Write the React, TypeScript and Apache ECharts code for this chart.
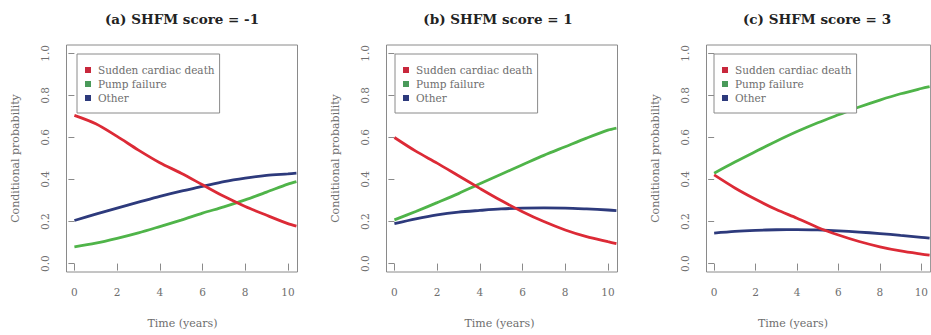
import React, { useEffect, useRef } from "react";
import * as echarts from "echarts";

// ---- data ----
const TIMES = [0, 1, 2, 3, 4, 5, 6, 7, 8, 9, 10, 10.4];
const SERIES_NAMES = ["Sudden cardiac death", "Pump failure", "Other"];
const PANEL_TITLES = ["(a) SHFM score = -1", "(b) SHFM score = 1", "(c) SHFM score = 3"];
const Y_TICKS = [0, 0.2, 0.4, 0.6, 0.8, 1.0];
const X_TICKS = [0, 2, 4, 6, 8, 10];

const SCD_A = [0.705, 0.665, 0.605, 0.54, 0.48, 0.43, 0.375, 0.32, 0.272, 0.23, 0.19, 0.178];
const PUMP_A = [0.08, 0.097, 0.12, 0.146, 0.176, 0.207, 0.24, 0.27, 0.303, 0.34, 0.378, 0.39];
const OTHER_A = [0.205, 0.235, 0.264, 0.292, 0.32, 0.345, 0.367, 0.39, 0.407, 0.42, 0.427, 0.43];

const SCD_B = [0.6, 0.535, 0.478, 0.418, 0.358, 0.3, 0.247, 0.2, 0.16, 0.128, 0.104, 0.095];
const PUMP_B = [0.208, 0.248, 0.29, 0.333, 0.38, 0.425, 0.47, 0.515, 0.556, 0.597, 0.635, 0.645];
const OTHER_B = [0.19, 0.213, 0.232, 0.245, 0.253, 0.26, 0.264, 0.265, 0.264, 0.26, 0.255, 0.252];

const SCD_C = [0.422, 0.36, 0.306, 0.257, 0.216, 0.172, 0.136, 0.105, 0.08, 0.06, 0.045, 0.04];
const PUMP_C = [0.43, 0.483, 0.533, 0.582, 0.628, 0.67, 0.708, 0.745, 0.778, 0.808, 0.833, 0.842];
const OTHER_C = [0.145, 0.153, 0.158, 0.161, 0.162, 0.16, 0.156, 0.15, 0.143, 0.134, 0.125, 0.121];

const PANELS = [
  [SCD_A, PUMP_A, OTHER_A],
  [SCD_B, PUMP_B, OTHER_B],
  [SCD_C, PUMP_C, OTHER_C],
];

// ---- styling ----
const LINE_COLORS = ["#dc2a36", "#4fb449", "#2d3a7c"];
const ICON_COLORS = ["#c8283c", "#4a9a5a", "#2d3a7c"];
const GRID_LEFT = [66.5, 386.5, 706.5];
const GRID_W = 231;
const GRID_TOP = 45;
const GRID_H = 227;
const TITLE_X = [182, 498, 817];
const XNAME_X = [182.5, 499.5, 793];
const LEGEND_LEFT = [77, 395, 714];
const SERIF = "DejaVu Serif";
const AXIS_GREY = "#8a8a8a";
const TEXT_GREY = "#6e6e6e";

function buildOption() {
  const grid: any[] = [];
  const xAxis: any[] = [];
  const yAxis: any[] = [];
  const series: any[] = [];
  const legend: any[] = [];
  const graphic: any[] = [];

  PANELS.forEach((panel, p) => {
    grid.push({
      left: GRID_LEFT[p],
      top: GRID_TOP,
      width: GRID_W,
      height: GRID_H,
      show: true,
      borderColor: AXIS_GREY,
      borderWidth: 1,
      backgroundColor: "transparent",
    });
    xAxis.push({
      type: "value",
      gridIndex: p,
      min: -0.37,
      max: 10.45,
      splitLine: { show: false },
      axisLine: { show: false },
      axisTick: { show: true, inside: false, length: 7, customValues: X_TICKS, lineStyle: { color: AXIS_GREY } },
      axisLabel: {
        customValues: X_TICKS,
        margin: 14,
        fontFamily: SERIF,
        fontSize: 10.5,
        color: TEXT_GREY,
      },
    });
    yAxis.push({
      type: "value",
      gridIndex: p,
      min: -0.04,
      max: 1.04,
      splitLine: { show: false },
      axisLine: { show: false },
      axisTick: { show: true, inside: false, length: 6, customValues: Y_TICKS, lineStyle: { color: AXIS_GREY } },
      axisLabel: {
        customValues: Y_TICKS,
        rotate: 90,
        margin: 16,
        fontFamily: SERIF,
        fontSize: 10.5,
        color: TEXT_GREY,
        formatter: (v: number) => v.toFixed(1),
      },
      name: "Conditional probability",
      nameLocation: "middle",
      nameGap: 46,
      nameTextStyle: { fontFamily: SERIF, fontSize: 11, color: TEXT_GREY },
    });
    panel.forEach((vals, s) => {
      series.push({
        type: "line",
        name: SERIES_NAMES[s],
        xAxisIndex: p,
        yAxisIndex: p,
        data: TIMES.map((t, i) => [t, vals[i]]),
        smooth: 0.3,
        showSymbol: false,
        symbol: "none",
        clip: true,
        itemStyle: { color: ICON_COLORS[s] },
        lineStyle: { color: LINE_COLORS[s], width: 2.8 },
        z: 3 - s,
      });
    });
    legend.push({
      orient: "vertical",
      left: LEGEND_LEFT[p],
      top: 54,
      data: SERIES_NAMES.map((n) => ({ name: n, icon: "rect" })),
      itemWidth: 6,
      itemHeight: 6,
      itemGap: 0,
      padding: [9, 5, 8, 8],
      borderColor: AXIS_GREY,
      borderWidth: 1,
      backgroundColor: "#fff",
      selectedMode: false,
      textStyle: { fontFamily: SERIF, fontSize: 10.5, lineHeight: 14, color: TEXT_GREY, padding: [0, 0, 0, 2] },
    });
    graphic.push({
      type: "text",
      x: TITLE_X[p],
      y: 19,
      style: {
        text: PANEL_TITLES[p],
        fontFamily: "DejaVu Serif",
        fontWeight: "bold",
        fontSize: 13.5,
        fill: "#222",
        textAlign: "center",
        textVerticalAlign: "middle",
      },
    });
    graphic.push({
      type: "text",
      x: XNAME_X[p],
      y: 323,
      style: {
        text: "Time (years)",
        fontFamily: SERIF,
        fontSize: 11,
        fill: TEXT_GREY,
        textAlign: "center",
        textVerticalAlign: "middle",
      },
    });
  });

  return {
    animation: false,
    backgroundColor: "#ffffff",
    grid,
    xAxis,
    yAxis,
    series,
    legend,
    graphic,
  };
}

export default function App() {
  const ref = useRef<HTMLDivElement>(null);
  useEffect(() => {
    if (!ref.current) return;
    const chart = echarts.init(ref.current, undefined, { renderer: "svg" });
    chart.setOption(buildOption() as any);
    return () => chart.dispose();
  }, []);
  return (
    <div
      ref={ref}
      style={{ position: "absolute", left: 0, top: 0, width: 931, height: 335 }}
    />
  );
}
